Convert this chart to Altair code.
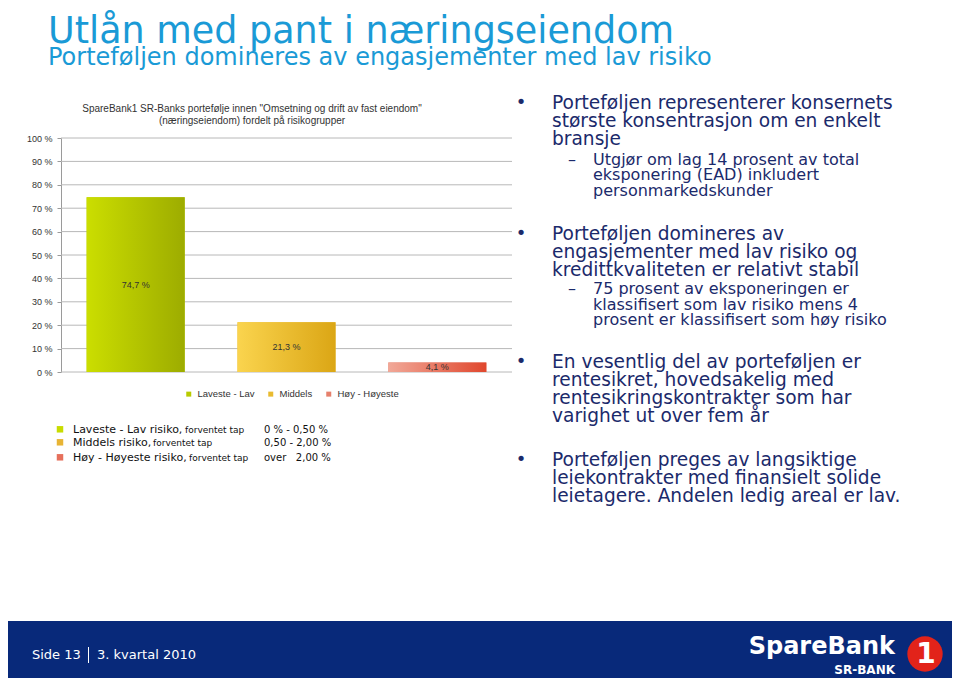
import altair as alt
import pandas as pd

# ---------------- data ----------------
kategorier = ["Laveste - Lav", "Middels", "Høy - Høyeste"]
andeler = [74.7, 21.3, 4.1]
y_ticks = [0, 10, 20, 30, 40, 50, 60, 70, 80, 90, 100]

tittel = "Utlån med pant i næringseiendom"
undertittel = "Porteføljen domineres av engasjementer med lav risiko"
diagram_tittel = [
    'SpareBank1 SR-Banks portefølje innen "Omsetning og drift av fast eiendom"',
    "(næringseiendom) fordelt på risikogrupper",
]

risiko_navn = ["Laveste - Lav risiko,", "Middels risiko,", "Høy - Høyeste risiko,"]
risiko_tillegg = "forventet tap"
risiko_intervall = ["0 % - 0,50 %", "0,50 - 2,00 %", "over\u00a0\u00a0\u00a02,00 %"]

punkt1 = ["Porteføljen representerer konsernets", "største konsentrasjon om en enkelt", "bransje"]
under1 = ["Utgjør om lag 14 prosent av total", "eksponering (EAD) inkludert", "personmarkedskunder"]
punkt2 = ["Porteføljen domineres av", "engasjementer med lav risiko og", "kredittkvaliteten er relativt stabil"]
under2 = ["75 prosent av eksponeringen er", "klassifisert som lav risiko mens 4", "prosent er klassifisert som høy risiko"]
punkt3 = ["En vesentlig del av porteføljen er", "rentesikret, hovedsakelig med",
          "rentesikringskontrakter som har", "varighet ut over fem år"]
punkt4 = ["Porteføljen preges av langsiktige", "leiekontrakter med finansielt solide",
          "leietagere. Andelen ledig areal er lav."]

bunn_side = "Side 13"
bunn_periode = "3. kvartal 2010"
logo_tekst = "SpareBank"
logo_under = "SR-BANK"

# ---------------- styles ----------------
solid = ["#b8cb00", "#e9bb30", "#e6806c"]
gradienter = [("#cbde00", "#9dac00"), ("#fad44e", "#dba615"), ("#f1a898", "#e0472d")]
ruter = ["#c8dc00", "#e8b434", "#e6705c"]
navy = "#1b2a6b"
blue = "#1a9ad6"
footer_col = "#08297a"
VER = "DejaVu Sans"
ARI = "Liberation Sans"

one = pd.DataFrame({"_": [0]})
df = pd.DataFrame({"kategori": kategorier, "andel": andeler})
ticks_df = pd.DataFrame({"tick": y_ticks})


def txt(text, x, y, size, color=navy, font=VER, align="left", weight="normal",
        lh=None, baseline="middle"):
    kw = dict(text=text, fontSize=size, color=color, font=font, align=align,
              fontWeight=weight, baseline=baseline)
    if lh:
        kw["lineHeight"] = lh
    return alt.Chart(one).mark_text(**kw).encode(x=alt.value(x), y=alt.value(y))


yscale = alt.Scale(domain=[0, 100], range=[364, 130])
yaxis = alt.Axis(values=y_ticks, labelExpr="datum.value + ' %'", offset=-53, grid=False,
                 domainColor="#9a9a9a", tickColor="#9a9a9a", tickSize=4, labelPadding=5,
                 labelFont=ARI, labelFontSize=9, labelColor="#333333", title=None,
                 labelFlush=False, labelOverlap=False)
xscale = alt.Scale(domain=kategorier, range=[53, 504], paddingInner=0.35, paddingOuter=0.17)


def xenc():
    return alt.X("kategori:N", sort=kategorier, scale=xscale, axis=None)


def yenc(field):
    return alt.Y(field, scale=yscale, axis=yaxis)


layers = []

# footer band
layers.append(alt.Chart(one).mark_rect(color=footer_col).encode(
    x=alt.value(0), x2=alt.value(944), y=alt.value(613), y2=alt.value(670)))

# gridlines
layers.append(alt.Chart(ticks_df).mark_rule(color="#b8b8b8", strokeWidth=1).encode(
    y=yenc("tick:Q"), x=alt.value(53), x2=alt.value(504)))

# base bars (legend)
layers.append(alt.Chart(df).mark_bar().encode(
    x=xenc(), y=yenc("andel:Q"),
    color=alt.Color("kategori:N", scale=alt.Scale(domain=kategorier, range=solid),
                    legend=alt.Legend(orient="none", legendX=176, legendY=381,
                                      direction="horizontal", title=None, symbolType="square",
                                      symbolSize=25, symbolStrokeWidth=0, labelFont=ARI,
                                      labelFontSize=9.5, labelColor="#333333",
                                      columnPadding=11, labelOffset=4, padding=0))))

# gradient bars
for k, (a, b) in zip(kategorier, gradienter):
    layers.append(alt.Chart(df).transform_filter(alt.datum.kategori == k).mark_bar(
        color=alt.Gradient(gradient="linear",
                           stops=[alt.GradientStop(color=a, offset=0),
                                  alt.GradientStop(color=b, offset=1)],
                           x1=0, x2=1, y1=0, y2=0)).encode(x=xenc(), y=yenc("andel:Q")))

# bar labels
layers.append(alt.Chart(df).transform_calculate(
    mid="datum.andel / 2",
    etikett="replace(format(datum.andel, '.1f'), '.', ',') + ' %'",
).mark_text(font=ARI, fontSize=9, color="#333333").encode(
    x=xenc(), y=yenc("mid:Q"), text="etikett:N"))

# chart title
layers.append(txt(diagram_tittel, 244, 101, 10, color="#333333", font=ARI, align="center", lh=11.7))

# slide title / subtitle
layers.append(txt(tittel, 40, 34.5, 36.5, color=blue, baseline="alphabetic"))
layers.append(txt(undertittel, 40, 57, 24, color=blue, baseline="alphabetic"))

# lower legend
rows_y = [421.3, 434.3, 449.3]
tillegg_x = [177, 145, 181]
for i in range(3):
    layers.append(alt.Chart(one).mark_square(size=42, color=ruter[i], opacity=1).encode(
        x=alt.value(52), y=alt.value(rows_y[i])))
    layers.append(txt(risiko_navn[i], 65, rows_y[i] + 4, 11, color="#111111", baseline="alphabetic"))
    layers.append(txt(risiko_tillegg, tillegg_x[i], rows_y[i] + 4, 9, color="#111111", baseline="alphabetic"))
    layers.append(txt(risiko_intervall[i], 256, rows_y[i] + 4, 10, color="#111111", baseline="alphabetic"))

# right text
for by in [95, 226, 354, 452]:
    layers.append(txt("•", 513, by, 18, align="center"))
for dy in [151.5, 281]:
    layers.append(txt("–", 564, dy, 16, align="center"))
layers.append(txt(punkt1, 544, 95, 18.6, lh=18))
layers.append(txt(under1, 585, 151.5, 16, lh=15.5))
layers.append(txt(punkt2, 544, 226, 18.6, lh=18))
layers.append(txt(under2, 585, 281, 16, lh=15.5))
layers.append(txt(punkt3, 544, 354, 18.6, lh=18))
layers.append(txt(punkt4, 544, 452, 18.6, lh=18))

# footer
layers.append(txt(bunn_side, 24, 647, 13, color="white"))
layers.append(alt.Chart(one).mark_rule(color="white", strokeWidth=1).encode(
    x=alt.value(80.5), y=alt.value(639), y2=alt.value(655)))
layers.append(txt(bunn_periode, 89, 647, 13, color="white"))
layers.append(txt(logo_tekst, 887, 639, 24, color="white", align="right", weight="bold"))
layers.append(txt(logo_under, 887, 662, 12, color="white", align="right", weight="bold"))
layers.append(alt.Chart(one).mark_circle(size=1250, color="#e2231a", opacity=1).encode(
    x=alt.value(917), y=alt.value(646)))
layers.append(txt("1", 918, 647, 28, color="white", align="center", weight="bold"))

chart = alt.layer(*layers).properties(
    width=944, height=670, padding=0,
    autosize=alt.AutoSizeParams(type="none"), background="white",
).configure_view(stroke=None)

chart.save("out.html", embed_options={"renderer": "svg", "actions": False})
